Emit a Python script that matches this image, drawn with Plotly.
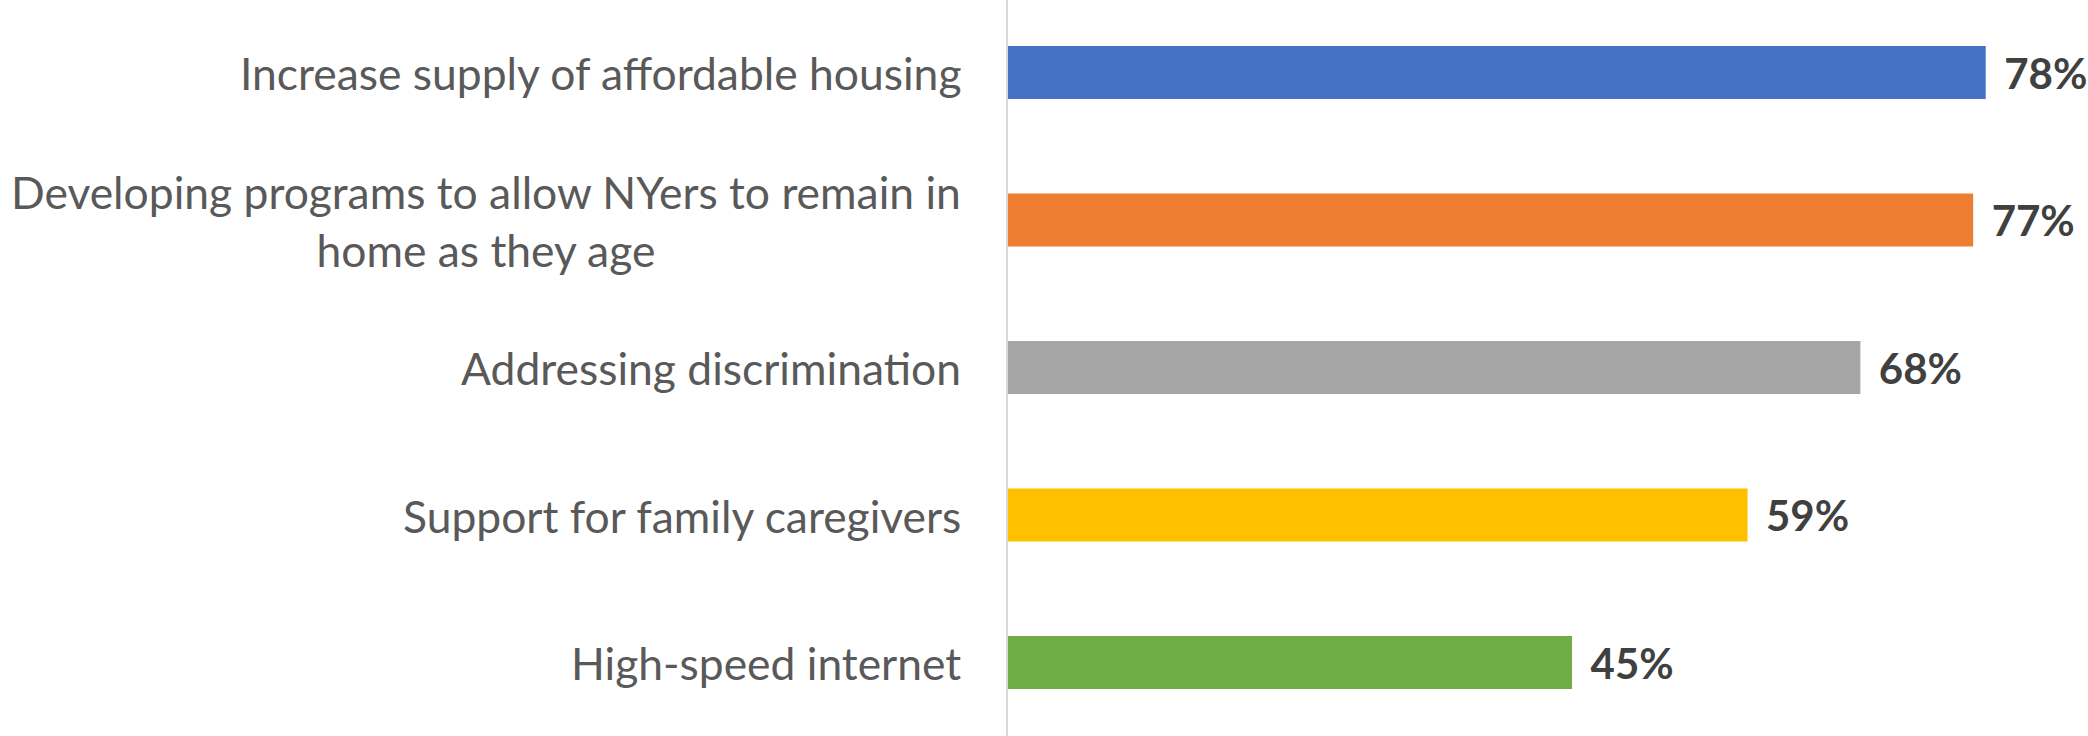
import plotly.graph_objects as go

categories = [
    "Increase supply of affordable housing",
    "Developing programs to allow NYers to remain in<br>home as they age",
    "Addressing discrimination",
    "Support for family caregivers",
    "High-speed internet",
]
values = [78, 77, 68, 59, 45]
colors = ["#4472C4", "#ED7D31", "#A5A5A5", "#FFC000", "#70AD47"]

FONT = "Lato"

fig = go.Figure()
fig.add_trace(go.Bar(
    y=list(range(len(categories))),
    x=values,
    orientation="h",
    marker=dict(color=colors, line=dict(width=0)),
    text=[f"\u00a0\u2009{v}%" for v in values],
    textposition="outside",
    textfont=dict(family=FONT, size=42, color="#404040", weight="bold"),
    constraintext="none",
    cliponaxis=False,
    hoverinfo="skip",
))

for i, c in enumerate(categories):
    fig.add_annotation(
        x=0, xref="paper", xanchor="right", xshift=-45,
        y=i, yref="y", yanchor="middle",
        text=c, showarrow=False, align="center",
        font=dict(family=FONT, size=44.4, color="#595959"),
    )

fig.update_layout(
    width=2088, height=736,
    margin=dict(l=1008, r=0, t=0, b=0),
    plot_bgcolor="white", paper_bgcolor="white",
    bargap=0.64,
    showlegend=False,
    xaxis=dict(range=[0, 86.16], showgrid=False, zeroline=False, showticklabels=False,
               showline=False),
    yaxis=dict(range=[4.498, -0.492], showgrid=False, zeroline=False, showticklabels=False,
               showline=True, linecolor="#D9D9D9", linewidth=2, mirror=False, ticks=""),
)

fig.write_html("out.html", config={"displayModeBar": False},
               post_script="document.body.style.margin='0';document.body.style.overflow='hidden';")
